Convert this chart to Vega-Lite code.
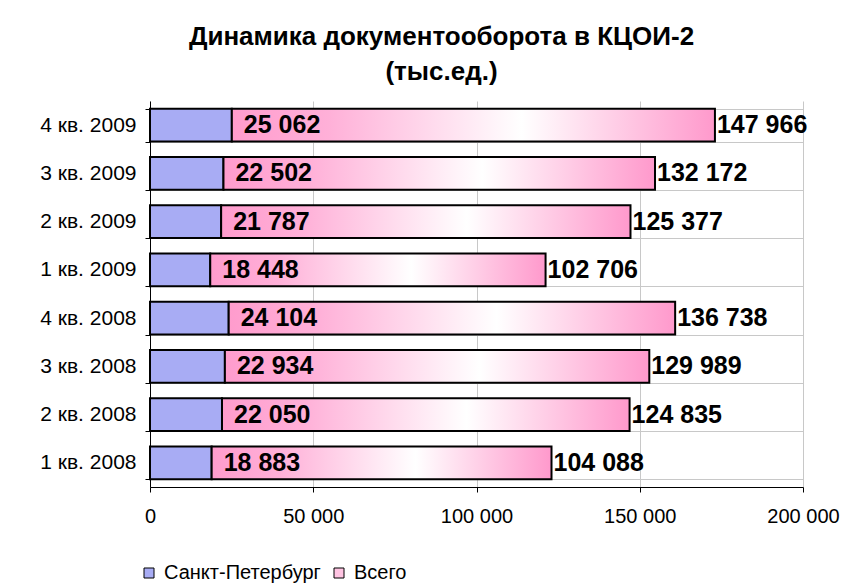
{
  "$schema": "https://vega.github.io/schema/vega-lite/v6.json",
  "width": 653,
  "height": 386,
  "autosize": "none",
  "padding": {"left": 150, "top": 101, "right": 42, "bottom": 99},
  "background": "white",
  "title": {
    "text": ["Динамика документооборота в КЦОИ-2", "(тыс.ед.)"],
    "frame": "group",
    "anchor": "middle",
    "dx": -35,
    "offset": 5,
    "font": "Liberation Sans",
    "fontSize": 26,
    "fontWeight": "bold",
    "color": "#000000",
    "lineHeight": 35
  },
  "data": {
    "values": [
      {"q": "4 кв. 2009", "s": "Санкт-Петербург", "v": 25062},
      {"q": "4 кв. 2009", "s": "Всего", "v": 147966},
      {"q": "3 кв. 2009", "s": "Санкт-Петербург", "v": 22502},
      {"q": "3 кв. 2009", "s": "Всего", "v": 132172},
      {"q": "2 кв. 2009", "s": "Санкт-Петербург", "v": 21787},
      {"q": "2 кв. 2009", "s": "Всего", "v": 125377},
      {"q": "1 кв. 2009", "s": "Санкт-Петербург", "v": 18448},
      {"q": "1 кв. 2009", "s": "Всего", "v": 102706},
      {"q": "4 кв. 2008", "s": "Санкт-Петербург", "v": 24104},
      {"q": "4 кв. 2008", "s": "Всего", "v": 136738},
      {"q": "3 кв. 2008", "s": "Санкт-Петербург", "v": 22934},
      {"q": "3 кв. 2008", "s": "Всего", "v": 129989},
      {"q": "2 кв. 2008", "s": "Санкт-Петербург", "v": 22050},
      {"q": "2 кв. 2008", "s": "Всего", "v": 124835},
      {"q": "1 кв. 2008", "s": "Санкт-Петербург", "v": 18883},
      {"q": "1 кв. 2008", "s": "Всего", "v": 104088}
    ]
  },
  "encoding": {
    "y": {
      "field": "q",
      "type": "nominal",
      "sort": ["4 кв. 2009", "3 кв. 2009", "2 кв. 2009", "1 кв. 2009", "4 кв. 2008", "3 кв. 2008", "2 кв. 2008", "1 кв. 2008"],
      "scale": {"paddingInner": 0.32, "paddingOuter": 0.16},
      "axis": {
        "title": null,
        "tickBand": "extent",
        "grid": true,
        "gridColor": "#c8c8c8",
        "gridWidth": 1,
        "domainColor": "#000000",
        "domainWidth": 1,
        "tickColor": "#000000",
        "tickSize": 5,
        "labelPadding": 9,
        "labelFont": "Liberation Sans",
        "labelFontSize": 21,
        "labelColor": "#000000"
      }
    },
    "x": {
      "field": "v",
      "type": "quantitative",
      "stack": "zero",
      "scale": {"domain": [0, 200000], "nice": false},
      "axis": {
        "title": null,
        "values": [0, 50000, 100000, 150000, 200000],
        "format": ",d",
        "grid": true,
        "gridColor": "#c8c8c8",
        "gridWidth": 1,
        "domainColor": "#000000",
        "domainWidth": 1,
        "tickColor": "#000000",
        "tickSize": 5,
        "labelPadding": 14,
        "labelFont": "Liberation Sans",
        "labelFontSize": 20,
        "labelColor": "#000000",
        "labelFlush": false
      }
    },
    "order": {"field": "s", "sort": "descending"}
  },
  "layer": [
    {
      "mark": {"type": "bar"},
      "encoding": {
        "color": {
          "field": "s",
          "type": "nominal",
          "scale": {"domain": ["Санкт-Петербург", "Всего"], "range": ["#a8acf4", "#ffc4e2"]},
          "legend": {
            "title": null,
            "orient": "none",
            "direction": "horizontal",
            "legendX": -11,
            "legendY": 462,
            "symbolType": "square",
            "symbolSize": 100,
            "symbolStrokeColor": "#000000",
            "symbolStrokeWidth": 1,
            "symbolOpacity": 1,
            "labelFont": "Liberation Sans",
            "labelFontSize": 20,
            "labelColor": "#000000",
            "labelOffset": 5,
            "columnPadding": 8
          }
        }
      }
    },
    {
      "mark": {"type": "bar", "stroke": "#000000", "strokeWidth": 2},
      "encoding": {
        "detail": {"field": "s"},
        "fill": {
          "condition": {
            "test": "datum.s === 'Всего'",
            "value": {
              "gradient": "linear",
              "x1": 0, "x2": 1, "y1": 0, "y2": 0,
              "stops": [
                {"offset": 0, "color": "#ff9ccd"},
                {"offset": 0.2, "color": "#ffb0d8"},
                {"offset": 0.6, "color": "#ffffff"},
                {"offset": 1, "color": "#ff99cc"}
              ]
            }
          },
          "value": null
        }
      }
    },
    {
      "mark": {"type": "text", "align": "left", "baseline": "middle", "dx": 12, "font": "Liberation Sans", "fontSize": 25, "fontWeight": "bold", "color": "#000000"},
      "encoding": {
        "detail": {"field": "s"},
        "text": {
          "condition": {"test": "datum.s === 'Санкт-Петербург'", "field": "v", "type": "quantitative", "format": ",d"},
          "value": ""
        }
      }
    },
    {
      "mark": {"type": "text", "align": "left", "baseline": "middle", "dx": 2, "font": "Liberation Sans", "fontSize": 25, "fontWeight": "bold", "color": "#000000"},
      "encoding": {
        "detail": {"field": "s"},
        "text": {
          "condition": {"test": "datum.s === 'Всего'", "field": "v", "type": "quantitative", "format": ",d"},
          "value": ""
        }
      }
    }
  ],
  "config": {
    "locale": {"number": {"decimal": ",", "thousands": " ", "grouping": [3], "currency": ["", ""]}},
    "view": {"stroke": null},
    "axis": {"labelFont": "Liberation Sans"}
  }
}
